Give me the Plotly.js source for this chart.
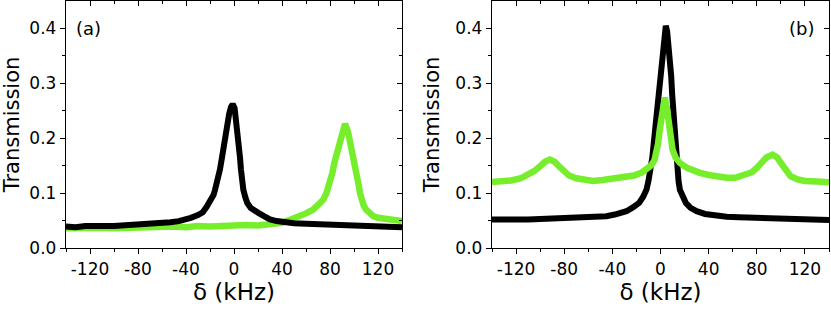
<!DOCTYPE html>
<html>
<head>
<meta charset="utf-8">
<script src="https://cdn.plot.ly/plotly-3.0.1.min.js"></script>
<style>html,body{margin:0;padding:0;background:#fff;}#chart{width:831px;height:311px;}</style>
</head>
<body>
<div id="chart"></div>
<script>
// Panel (a), black curve
const aBlackX = [-140,-132,-124,-116,-108,-100,-92,-84,-76,-68,-60,-53,-46,-40,-36,-30,-26,-22.8,-20,-17,-15.8,-13.5,-11.7,-10,-8.3,-7,-5.6,-4,-2.5,-1.1,0.5,2.2,3.2,4.2,5.0,5.8,6.8,7.8,9.5,11.1,14,17,20.3,25,30,35.6,40,50,60,70,80,90,100,110,120,130,140];
const aBlackY = [0.039,0.038,0.040,0.039,0.040,0.040,0.041,0.041,0.042,0.043,0.044,0.047,0.049,0.052,0.055,0.060,0.065,0.075,0.085,0.097,0.106,0.125,0.143,0.165,0.191,0.208,0.228,0.245,0.257,0.262,0.255,0.228,0.210,0.191,0.165,0.143,0.122,0.106,0.092,0.082,0.073,0.067,0.064,0.058,0.052,0.049,0.047,0.045,0.044,0.043,0.042,0.041,0.040,0.040,0.039,0.038,0.038];
// Panel (a), green curve
const aGreenX = [-140,-130,-120,-110,-100,-90,-80,-70,-60,-50,-40,-30,-20,-10,0,10,20,30,40,46.7,55,60,66,70,74.4,77,80,82,83.6,85.5,87.8,90,92.5,95,97.2,99,100.8,102,103.6,105,106.4,108,110,113,116,120,127,134,140];
const aGreenY = [0.036,0.037,0.036,0.037,0.036,0.037,0.038,0.037,0.038,0.039,0.038,0.040,0.039,0.041,0.040,0.042,0.041,0.043,0.046,0.0515,0.058,0.063,0.070,0.078,0.088,0.100,0.118,0.137,0.155,0.172,0.191,0.212,0.226,0.212,0.191,0.172,0.155,0.137,0.118,0.100,0.088,0.078,0.070,0.063,0.058,0.055,0.052,0.050,0.049];
// Panel (b), black curve
const bBlackX = [-140,-130,-120,-110,-100,-90,-80,-70,-60,-50,-45,-38,-33,-28.3,-23,-17.8,-14.5,-11.7,-10,-8.1,-6.8,-5.6,-4.2,-2.8,-1.7,-0.6,0.8,2.2,3.3,4.4,5.5,6.6,7.8,8.9,9.7,10.5,11.2,11.9,12.9,13.9,15,16.1,18.5,21.1,25,30,37,46.7,55,65,75,85,95,105,115,125,140];
const bBlackY = [0.052,0.051,0.052,0.052,0.053,0.053,0.054,0.055,0.056,0.057,0.058,0.061,0.063,0.067,0.074,0.082,0.093,0.106,0.122,0.143,0.165,0.191,0.220,0.252,0.280,0.313,0.345,0.373,0.395,0.405,0.395,0.373,0.345,0.313,0.280,0.252,0.220,0.191,0.165,0.143,0.122,0.106,0.093,0.082,0.073,0.067,0.062,0.058,0.057,0.056,0.055,0.054,0.053,0.052,0.052,0.051,0.051];
// Panel (b), green curve
const bGreenX = [-140,-132,-124,-116,-110,-105,-100,-96,-92,-88,-84,-80,-76,-70,-64,-56,-48,-40,-34,-28.3,-22,-16,-11.7,-8,-5,-3.9,-2,-0.6,1.6,3.6,5.5,7.2,8.5,10,12.5,16.1,22,28,32.7,40,48,55,62,70,76,80,84,88,93,97,100,104,108,114,120,130,140];
const bGreenY = [0.120,0.121,0.123,0.127,0.133,0.140,0.149,0.157,0.161,0.157,0.148,0.139,0.132,0.127,0.124,0.122,0.124,0.126,0.127,0.128,0.132,0.137,0.143,0.150,0.160,0.170,0.190,0.216,0.252,0.274,0.252,0.216,0.195,0.179,0.165,0.155,0.146,0.140,0.137,0.133,0.130,0.128,0.128,0.132,0.138,0.146,0.156,0.165,0.170,0.165,0.155,0.141,0.131,0.125,0.122,0.121,0.120];

const xTickVals = [-120,-80,-40,0,40,80,120];
const yTickVals = [0.0,0.1,0.2,0.3,0.4];
const panelLabels = ['(a)','(b)'];
const xTitle = 'δ (kHz)';
const yTitle = 'Transmission';

const GREEN = '#77ee2c';
const FONT = 'DejaVu Sans, Liberation Sans, Arial, sans-serif';
const xRange = [-140, 140];
const yRange = [0, 0.45];

const traces = [
  {x: aGreenX, y: aGreenY, xaxis:'x', yaxis:'y', mode:'lines', line:{color:GREEN, width:6.5}, hoverinfo:'skip'},
  {x: aBlackX, y: aBlackY, xaxis:'x', yaxis:'y', mode:'lines', line:{color:'#000', width:6}, hoverinfo:'skip'},
  {x: bBlackX, y: bBlackY, xaxis:'x2', yaxis:'y2', mode:'lines', line:{color:'#000', width:6}, hoverinfo:'skip'},
  {x: bGreenX, y: bGreenY, xaxis:'x2', yaxis:'y2', mode:'lines', line:{color:GREEN, width:6.5}, hoverinfo:'skip'},
  {x: [], y: [], xaxis:'x3', yaxis:'y3', showlegend:false},
  {x: [], y: [], xaxis:'x4', yaxis:'y4', showlegend:false}
];

function mainX(domain, anchor) {
  return {
    domain: domain, anchor: anchor, range: xRange, showgrid:false, zeroline:false,
    showline:true, linecolor:'#000', linewidth:1.2, mirror:true,
    ticks:'outside', ticklen:5, tickwidth:1, tickcolor:'#000',
    tickvals: xTickVals, ticktext: xTickVals.map(v => v < 0 ? '-' + Math.abs(v) : String(v)),
    minor:{ticks:'outside', ticklen:3, tickwidth:1, tickcolor:'#000', tickvals:[-140,-100,-60,-20,20,60,100,140]},
    tickfont:{family:FONT, size:17, color:'#000'},
    title:{text:xTitle, font:{family:FONT, size:23, color:'#000'}, standoff:4}
  };
}
function mainY(anchor) {
  return {
    domain:[0,1], anchor: anchor, range: yRange, showgrid:false, zeroline:false,
    showline:true, linecolor:'#000', linewidth:1.2, mirror:true,
    ticks:'outside', ticklen:5, tickwidth:1, tickcolor:'#000',
    tickvals: yTickVals, ticktext: yTickVals.map(v => v.toFixed(1)),
    minor:{ticks:'outside', ticklen:3, tickwidth:1, tickcolor:'#000', tickvals:[0.05,0.15,0.25,0.35]},
    tickfont:{family:FONT, size:17, color:'#000'},
    title:{text:yTitle, font:{family:FONT, size:21, color:'#000'}, standoff:10}
  };
}
function topX(over, anchor) {
  return {
    overlaying: over, anchor: anchor, side:'top', range: xRange, showgrid:false, zeroline:false,
    showline:false, showticklabels:false, ticks:'inside', ticklen:5, tickwidth:1, tickcolor:'#000',
    tickvals: xTickVals,
    minor:{ticks:'inside', ticklen:3, tickwidth:1, tickcolor:'#000', tickvals:[-140,-100,-60,-20,20,60,100,140]}
  };
}
function rightY(over, anchor) {
  return {
    overlaying: over, anchor: anchor, side:'right', range: yRange, showgrid:false, zeroline:false,
    showline:false, showticklabels:false, ticks:'inside', ticklen:5, tickwidth:1, tickcolor:'#000',
    tickvals: yTickVals,
    minor:{ticks:'inside', ticklen:3, tickwidth:1, tickcolor:'#000', tickvals:[0.05,0.15,0.25,0.35]}
  };
}

const layout = {
  width:831, height:311, autosize:false,
  margin:{l:0, r:0, t:1, b:63, pad:0},
  paper_bgcolor:'#fff', plot_bgcolor:'#fff', showlegend:false,
  xaxis: mainX([66/831, 402/831], 'y'),
  yaxis: mainY('x'),
  xaxis2: mainX([492/831, 829/831], 'y2'),
  yaxis2: mainY('x2'),
  xaxis3: topX('x', 'y'),
  yaxis3: rightY('y', 'x'),
  xaxis4: topX('x2', 'y2'),
  yaxis4: rightY('y2', 'x2'),
  annotations: [
    {xref:'x', yref:'y', x:-133, y:0.40, xanchor:'left', yanchor:'middle', text:panelLabels[0], showarrow:false, font:{family:FONT, size:18, color:'#000'}},
    {xref:'x2', yref:'y2', x:129, y:0.40, xanchor:'right', yanchor:'middle', text:panelLabels[1], showarrow:false, font:{family:FONT, size:18, color:'#000'}}
  ]
};

Plotly.newPlot('chart', traces, layout, {staticPlot:true, displayModeBar:false});
</script>
</body>
</html>
